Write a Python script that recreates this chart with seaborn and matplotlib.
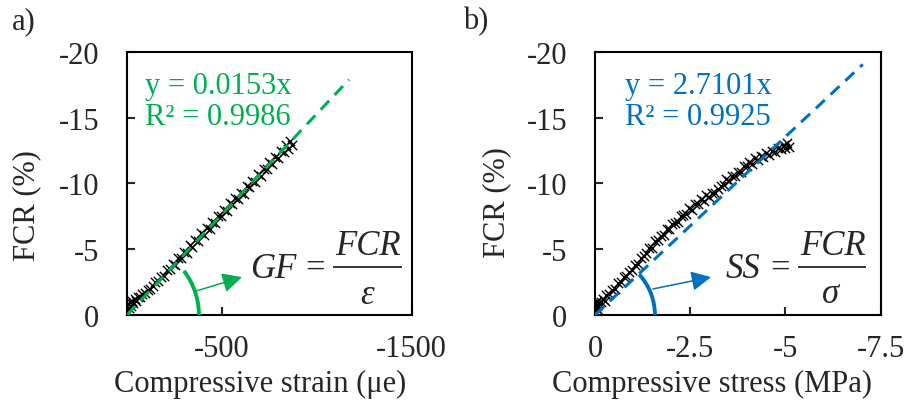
import matplotlib
matplotlib.use('Agg')
import matplotlib.pyplot as plt
import seaborn as sns
import pandas as pd
from matplotlib.patches import Arc

# --------------- DATA -----------------
# a) FCR vs compressive strain
strain_a = [0, -5, -10, -15, -20, -25, -30, -40, -50, -60, -70, -80, -95, -110,
            -120, -135, -150, -165, -180, -195, -210, -225, -240, -255, -270,
            -285, -300, -315, -330, -345, -360, -375, -390, -405, -420, -435,
            -450, -465, -480, -495, -510, -525, -540, -555, -570, -585, -600,
            -615, -630, -645, -660, -675, -690, -705, -720, -735, -750, -765,
            -780, -795, -810, -825, -840, -850, -860, -870]
fcr_a = [-0.2, -0.8, -0.5, -1.0, -0.7, -1.1, -0.9, -1.2, -1.1, -1.4, -1.4, -1.6,
         -1.7, -1.9, -2.0, -2.2, -2.5, -2.6, -2.9, -3.0, -3.4, -3.5, -3.9, -3.8,
         -4.3, -4.3, -4.8, -4.7, -5.3, -5.2, -5.7, -5.6, -6.2, -6.1, -6.6, -6.5,
         -7.1, -7.0, -7.5, -7.5, -8.0, -7.9, -8.5, -8.4, -8.9, -8.8, -9.3, -9.2,
         -9.8, -9.7, -10.2, -10.1, -10.7, -10.6, -11.1, -11.1, -11.6, -11.5,
         -12.0, -11.9, -12.5, -12.4, -12.9, -12.6, -13.2, -12.9]

# b) FCR vs compressive stress
stress_b = [0, -0.02, -0.03, -0.05, -0.06, -0.08, -0.1, -0.15, -0.2, -0.25, -0.3,
            -0.38, -0.45, -0.52, -0.6, -0.68, -0.75, -0.82, -0.9, -0.98, -1.05,
            -1.12, -1.2, -1.28, -1.35, -1.42, -1.5, -1.58, -1.65, -1.72, -1.8,
            -1.88, -1.95, -2.02, -2.1, -2.18, -2.25, -2.32, -2.4, -2.48, -2.55,
            -2.62, -2.7, -2.78, -2.85, -2.92, -3.0, -3.08, -3.15, -3.22, -3.3,
            -3.38, -3.45, -3.52, -3.6, -3.68, -3.75, -3.82, -3.9, -3.98, -4.05,
            -4.12, -4.2, -4.28, -4.35, -4.42, -4.5, -4.58, -4.65, -4.72, -4.8,
            -4.88, -4.95, -5.0, -5.05, -5.1]
fcr_b = [-0.3, -0.9, -0.5, -1.1, -0.7, -0.4, -0.9, -1.0, -1.2, -1.1, -1.5,
         -1.6, -1.9, -2.0, -2.4, -2.5, -2.9, -3.0, -3.3, -3.4, -3.8,
         -3.9, -4.3, -4.5, -4.7, -5.1, -5.1, -5.6, -5.7, -6.0, -6.1,
         -6.5, -6.5, -6.9, -7.0, -7.1, -7.5, -7.6, -7.7, -8.1, -8.0,
         -8.4, -8.4, -8.8, -8.7, -9.1, -9.0, -9.3, -9.3, -9.6, -9.8,
         -9.9, -10.3, -10.2, -10.6, -10.6, -10.9, -10.9, -11.3, -11.3, -11.6,
         -11.5, -11.9, -11.8, -12.1, -12.0, -12.3, -12.2, -12.5, -12.4, -12.7,
         -12.6, -12.9, -12.7, -13.1, -12.8]

# linear trend lines (end points)
fit_strain = [0, -1170]
fit_fcr_a = [0, -17.9]
fit_stress = [0, -7.03]
fit_fcr_b = [0, -19.05]

eq_a = ["y = 0.0153x", "R² = 0.9986"]
eq_b = ["y = 2.7101x", "R² = 0.9925"]

yticks = [0, -5, -10, -15, -20]
xticks_a = [-500, -1500]
xticks_b = [0, -2.5, -5, -7.5]

GREEN = '#00B050'
BLUE = '#0070C0'

# --------------- STYLE -----------------
sns.set_style('ticks')
plt.rcParams['font.family'] = ['Liberation Serif', 'DejaVu Serif']
FS = 22
FF = 25  # formula size


def style_axes(ax, xlim, xticks, xlabels):
    ax.set_xlim(*xlim)
    ax.set_ylim(0, -20)
    ax.set_xticks(xticks)
    ax.set_xticklabels(xlabels, fontsize=FS)
    ax.set_yticks(yticks)
    ax.set_yticklabels([str(v) for v in yticks], fontsize=FS)
    ax.tick_params(axis='both', direction='in', length=6, width=1.5,
                   top=False, right=False)
    ax.tick_params(axis='x', pad=14)
    ax.tick_params(axis='y', pad=20)
    for sp in ax.spines.values():
        sp.set_visible(True)
        sp.set_linewidth(1.5)
        sp.set_color('black')
    ax.grid(False)


def draw_formula(ax, lhs, den, pos):
    # pos: lhs_x, eq_x, bar_x0, bar_x1, num_x, den_x, den_y
    kw = dict(transform=ax.transAxes, fontsize=FF, va='baseline')
    ax.text(pos[0], 0.1445, lhs, ha='left', style='italic', **kw)
    ax.text(pos[1], 0.1445, '=', ha='center', **kw)
    ax.plot([pos[2], pos[3]], [0.184, 0.184], transform=ax.transAxes,
            color='black', lw=1.1, solid_capstyle='butt')
    ax.text(pos[4], 0.232, 'FCR', ha='center', style='italic', **kw)
    ax.text(pos[5], pos[6], den, ha='center', style='italic', **kw)


def draw_panel(ax, x, y, fx, fy, color, eq, eq_x, arc_r, arc_t, arrow):
    df = pd.DataFrame({'x': x, 'y': y})
    sns.scatterplot(data=df, x='x', y='y', ax=ax, marker='x', color='black',
                    s=45, linewidth=1.0, zorder=2, legend=False)
    ax.plot(fx, fy, color=color, lw=2.2, linestyle=(0, (4, 2.6)), zorder=3)
    ax.text(eq_x, 0.871, eq[0], transform=ax.transAxes, color=color,
            fontsize=FS, va='center', ha='left')
    ax.text(eq_x, 0.753, eq[1], transform=ax.transAxes, color=color,
            fontsize=FS, va='center', ha='left')
    arc = Arc((0, 0), 2 * arc_r[0], 2 * arc_r[1], theta1=0, theta2=arc_t,
              transform=ax.transAxes, color=color, lw=2.8, zorder=4)
    ax.add_patch(arc)
    ax.annotate('', xy=arrow[1], xytext=arrow[0], xycoords='axes fraction',
                arrowprops=dict(arrowstyle='-|>', color=color, lw=1.1,
                                mutation_scale=30, shrinkA=0, shrinkB=0))
    ax.set_ylabel('FCR (%)', fontsize=FS)


fig = plt.figure(figsize=(9.07, 4.06), dpi=100)
ax_a = fig.add_axes([0.140, 0.2217, 0.314, 0.648])
ax_b = fig.add_axes([0.656, 0.2217, 0.315, 0.648])

draw_panel(ax_a, strain_a, fcr_a, fit_strain, fit_fcr_a, GREEN, eq_a, 0.063,
           (72 / 285, 72 / 263), 40, ((0.242, 0.091), (0.404, 0.144)))
draw_formula(ax_a, 'GF', '\u03b5',
             (0.432, 0.660, 0.723, 0.965, 0.846, 0.842, 0.045))
style_axes(ax_a, (0, -1500), xticks_a, [str(v) for v in xticks_a])
ax_a.set_xlabel('Compressive strain (\u03bce)', fontsize=FS)
ax_a.xaxis.set_label_coords(0.467, -0.262)
ax_a.yaxis.set_label_coords(-0.351, 0.418)

draw_panel(ax_b, stress_b, fcr_b, fit_stress, fit_fcr_b, BLUE, eq_b, 0.105,
           (60 / 286, 60 / 263), 45, ((0.203, 0.099), (0.406, 0.144)))
draw_formula(ax_b, 'SS', '\u03c3',
             (0.458, 0.647, 0.710, 0.948, 0.834, 0.825, 0.049))
style_axes(ax_b, (0, -7.5), xticks_b, ['0', '-2.5', '-5', '-7.5'])
ax_b.set_xlabel('Compressive stress (MPa)', fontsize=FS)
ax_b.xaxis.set_label_coords(0.41, -0.262)
ax_b.yaxis.set_label_coords(-0.343, 0.43)

for ax in (ax_a, ax_b):
    ax.xaxis.label.set_va('center')
    ax.yaxis.label.set_va('center')

fig.text(12 / 907, 1 - 22 / 406, 'a)', fontsize=FS, ha='left', va='center')
fig.text(463 / 907, 1 - 22 / 406, 'b)', fontsize=FS, ha='left', va='center')

fig.savefig('out.png', dpi=100)
